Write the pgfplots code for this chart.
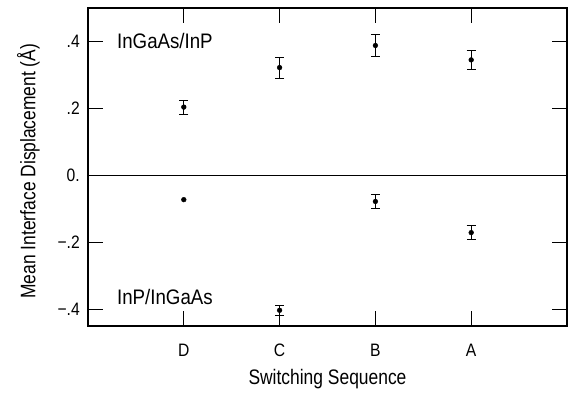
\documentclass[border=0pt]{standalone}
\usepackage{fontspec}
\setmainfont{Liberation Sans}[FakeStretch=0.83]
\newfontfamily\annfont{Liberation Sans}[FakeStretch=0.89]
\newfontfamily\tickfont{Liberation Sans}[FakeStretch=0.87]
\usepackage{pgfplots}
\pgfplotsset{compat=1.18}
\begin{document}
\begin{tikzpicture}
\useasboundingbox (-88pt,-76pt) rectangle (485pt,326pt);
\begin{axis}[
  at={(0,0)}, anchor=south west,
  scale only axis, width=479pt, height=318pt,
  xmin=0, xmax=5, ymin=-0.45, ymax=0.5,
  axis line style={line width=1.6pt},
  xtick={1,2,3,4}, xticklabels={D,C,B,A},
  ytick={-0.4,-0.2,0,0.2,0.4},
  yticklabels={−.4,−.2,0.,.2,.4},
  tick align=inside, tick pos=both,
  xticklabel pos=bottom, yticklabel pos=left,
  major tick length=15pt,
  tick style={line width=0.9pt, black},
  ticklabel style={font=\tickfont\fontsize{18}{20}\selectfont},
  xticklabel style={anchor=base, yshift=-30pt, inner sep=0pt},
  yticklabel style={anchor=east, xshift=-8pt, inner sep=0pt},
  xlabel={Switching Sequence},
  ylabel={Mean Interface Displacement (Å)},
  label style={font=\fontsize{21}{24}\selectfont},
  xlabel style={at={(axis description cs:0.5,-0.1855)}, anchor=base, inner sep=0pt},
  ylabel style={at={(axis description cs:-0.11,0.487)}, anchor=base, inner sep=0pt},
  clip=false,
]
\addplot[black, line width=1.3pt] coordinates {(0,0) (5,0)};
\addplot[only marks, mark=*, mark size=2.4pt, black,
  error bars/.cd, y dir=both, y explicit,
  error bar style={line width=0.8pt, black},
  error mark options={line width=0.8pt, mark size=4.5pt, black, rotate=90}]
  coordinates {
  (1,0.204) +- (0,0.021)
  (2,0.322) +- (0,0.031)
  (3,0.388) +- (0,0.032)
  (4,0.345) +- (0,0.028)
  (2,-0.403) +- (0,0.016)
  (3,-0.078) +- (0,0.021)
  (4,-0.171) +- (0,0.021)
  };
\addplot[only marks, mark=*, mark size=2.4pt, black] coordinates {(1,-0.0725)};
\node[anchor=base west, inner sep=0pt, font=\annfont\fontsize{21}{24}\selectfont] at (axis cs:0.302,0.378) {InGaAs/InP};
\node[anchor=base west, inner sep=0pt, font=\annfont\fontsize{21}{24}\selectfont] at (axis cs:0.302,-0.386) {InP/InGaAs};
\end{axis}
\end{tikzpicture}
\end{document}
